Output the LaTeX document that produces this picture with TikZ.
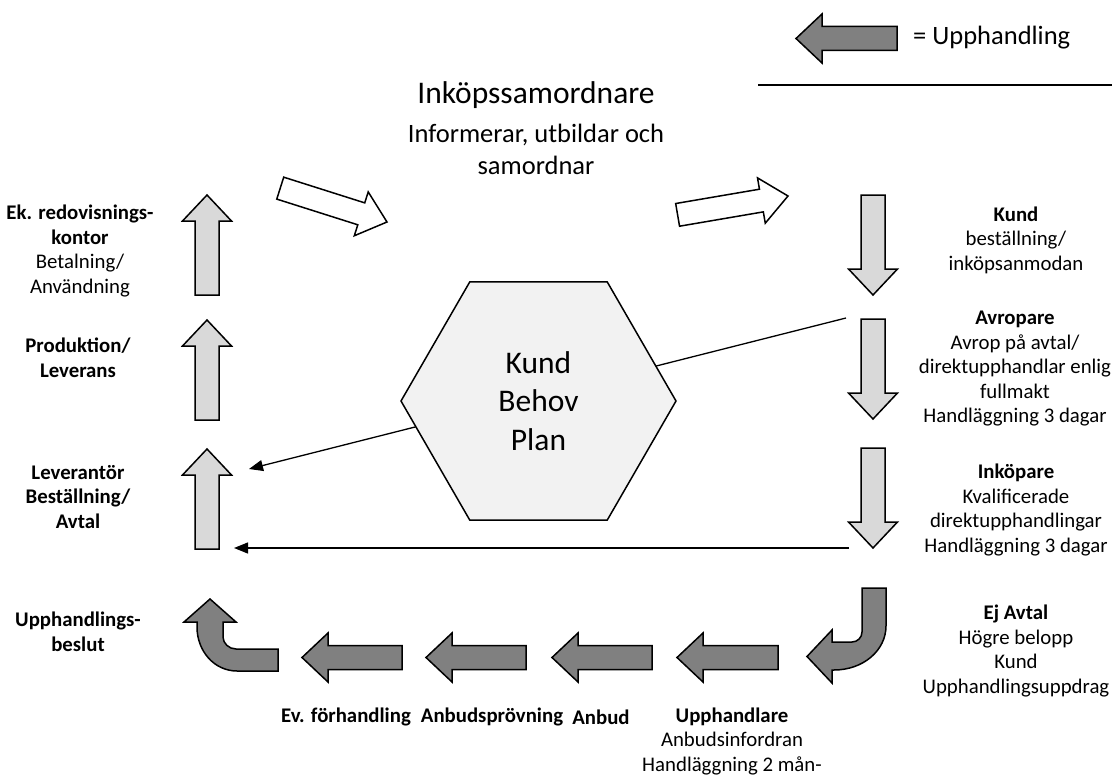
\documentclass[tikz,border=0pt]{standalone}
\usepackage{fontspec}
\setmainfont{Carlito}
\usetikzlibrary{arrows.meta,shapes.geometric}

\definecolor{shaftlight}{HTML}{D9D9D9}
\definecolor{shaftdark}{HTML}{808080}
\definecolor{hexfill}{HTML}{F2F2F2}

\tikzset{
  blk hl/.store in=\bahl,
  blk hw/.store in=\bahw,
  blk sw/.store in=\basw,
  blk hl=26, blk hw=24.5, blk sw=12,
  % block arrow: tip at the origin, pointing along +x, total length #1
  blockarrow/.pic={
    \path[pic actions] (0,0) -- (-\bahl,-\bahw) -- (-\bahl,-\basw) -- (-#1,-\basw)
      -- (-#1,\basw) -- (-\bahl,\basw) -- (-\bahl,\bahw) -- cycle;
  },
  lightarr/.style={draw, fill=shaftlight, line width=1.5pt},
  darkarr/.style={draw, fill=shaftdark, line width=1.5pt},
  whitearr/.style={draw, fill=white, line width=1.5pt, blk hl=27, blk hw=23, blk sw=11.5},
  conn/.style={line width=1.3pt, -{Triangle[length=14pt,width=11pt]}},
  txt/.style={inner sep=0pt, align=center, font=\fontsize{20.8}{24.5}\selectfont},
  midtxt/.style={inner sep=0pt, align=center, font=\fontsize{26.5}{32}\selectfont},
  bigtxt/.style={inner sep=0pt, align=center, font=\fontsize{31.5}{38.5}\selectfont},
}

\begin{document}
\begin{tikzpicture}[x=1pt, y=-1pt]
\useasboundingbox (0,0) rectangle (1112,776);

% legend
\pic[darkarr, rotate=180] at (796,38.5) {blockarrow=101};
\node[midtxt, anchor=west] (legtext) at (913,38) {= Upphandling};
\coordinate (legL) at (758,85);
\coordinate (legR) at (1112,85);
\draw[line width=1.8pt] (legL) -- (legR);

% coordinator heading
\node[bigtxt] (coord) at (536,95) {Inköpssamordnare};
\node[midtxt] (coordsub) at (536,149) {Informerar, utbildar och\\samordnar};

% white flow arrows
\pic[whitearr, rotate=-17.6] at (387,222) {blockarrow=112};
\pic[whitearr, rotate=9.7] at (788,196) {blockarrow=112};

% connectors behind the hexagon
\coordinate (avrTop) at (846,318);
\coordinate (levHead) at (249,469);
\draw[conn] (avrTop) -- (levHead);
\coordinate (inkBot) at (849,548);
\coordinate (levFoot) at (234,548);
\draw[conn] (inkBot) -- (levFoot);

% central hexagon
\node[regular polygon, regular polygon sides=6, minimum size=275pt, inner sep=0pt,
      draw, line width=1.5pt, fill=hexfill, align=center,
      font=\fontsize{31.5}{38.5}\selectfont] (hex) at (538.5,401) {Kund\\Behov\\Plan};

% right column: downward steps
\pic[lightarr, rotate=-90] at (873,295) {blockarrow=100};
\pic[lightarr, rotate=-90] at (873,419) {blockarrow=100};
\pic[lightarr, rotate=-90] at (873,548) {blockarrow=100};

\node[txt] (kund) at (1016,240) {\textbf{Kund}\\beställning/\\inköpsanmodan};
\node[txt] (avrop) at (1015,369) {\textbf{Avropare}\\Avrop på avtal/\\direktupphandlar enlig\\fullmakt\\Handläggning 3 dagar};
\node[txt] (inkop) at (1016,510) {\textbf{Inköpare}\\Kvalificerade\\direktupphandlingar\\Handläggning 3 dagar};
\node[txt] (ejavtal) at (1016,651) {\textbf{Ej Avtal}\\Högre belopp\\Kund\\Upphandlingsuppdrag};

% right bent arrow (down, then left)
\path[darkarr] (862,588) -- (886,588) -- (886,626)
  .. controls (886,650.3) and (863.3,670) .. (834,670) -- (832,670) -- (832,683)
  -- (807,656.5) -- (832,630) -- (832,642) -- (852,642)
  .. controls (857.5,642) and (862,637.5) .. (862,632) -- cycle;

% bottom row: procurement steps
\pic[darkarr, rotate=180] at (677,657.5) {blockarrow=101};
\pic[darkarr, rotate=180] at (552,657.5) {blockarrow=100};
\pic[darkarr, rotate=180] at (426,657.5) {blockarrow=100};
\pic[darkarr, rotate=180] at (302,657.5) {blockarrow=100};

\node[txt] (upph) at (732,741) {\textbf{Upphandlare}\\Anbudsinfordran\\Handläggning 2 mån-};
\node[txt] (anbud) at (601,717) {\textbf{Anbud}};
\node[txt] (anbpr) at (492,717) {\textbf{Anbudsprövning}};
\node[txt] (forh) at (346,717) {\textbf{Ev. förhandling}};

% left bent arrow (left, then up)
\path[darkarr] (278,649) -- (236,649)
  .. controls (228.8,649) and (223,643.2) .. (223,637) -- (223,622) -- (236,622)
  -- (210,599) -- (184,622) -- (197,622) -- (197,627)
  .. controls (197,651.3) and (214.5,671) .. (237,671) -- (278,671) -- cycle;

% left column: upward steps
\pic[lightarr, rotate=90] at (207,449) {blockarrow=100};
\pic[lightarr, rotate=90] at (207,320) {blockarrow=100};
\pic[lightarr, rotate=90] at (207,195) {blockarrow=100};

\node[txt] (beslut) at (78,632) {\textbf{Upphandlings-}\\\textbf{beslut}};
\node[txt] (lev) at (78,497) {\textbf{Leverantör}\\\textbf{Beställning/}\\\textbf{Avtal}};
\node[txt] (prod) at (78,358) {\textbf{Produktion/}\\\textbf{Leverans}};
\node[txt] (ekon) at (80,251) {\textbf{Ek. redovisnings-}\\\textbf{kontor}\\Betalning/\\Användning};
\end{tikzpicture}
\end{document}
